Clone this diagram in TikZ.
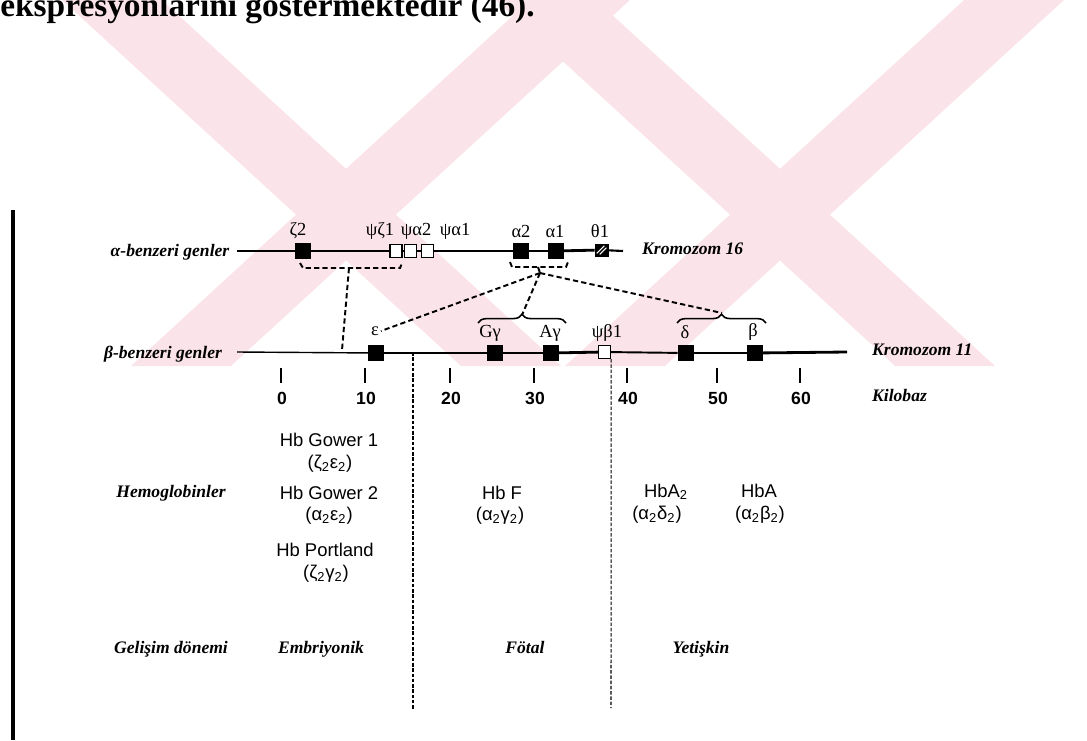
\documentclass[tikz,border=0pt]{standalone}
\usepackage{fontspec}
\setmainfont{Liberation Serif}
\setsansfont{Liberation Sans}
\usetikzlibrary{decorations.pathreplacing}
\definecolor{wmpink}{RGB}{251,228,233}
\tikzset{>=latex}

\begin{document}
\begin{tikzpicture}[x=0.02cm,y=-0.02cm,
  genebox/.style={draw,fill=black,minimum width=0.3cm,minimum height=0.3cm,inner sep=0pt},
  pseudo/.style={draw,fill=white,line width=0.7pt,minimum width=0.24cm,minimum height=0.26cm,inner sep=0pt},
  sidelbl/.style={font=\bfseries\itshape\fontsize{10}{12}\selectfont},
  genelbl/.style={font=\fontsize{10.5}{12}\selectfont,inner sep=1pt},
  hbtxt/.style={font=\sffamily\fontsize{10.5}{12}\selectfont},
  kbnum/.style={font=\sffamily\bfseries\fontsize{10}{12}\selectfont},
  link/.style={line width=1.1pt,dash pattern=on 3pt off 1.8pt},
  sep/.style={line width=0.6pt,dash pattern=on 2pt off 1pt}]
\useasboundingbox (0,0) rectangle (1087,740);

% watermark
\begin{scope}
  \clip (0,0) rectangle (1087,366);
  \fill[wmpink] (62,0) -- (162,0) -- (561,366) -- (461,366) -- cycle;
  \fill[wmpink] (530,0) -- (630,0) -- (231,366) -- (131,366) -- cycle;
  \fill[wmpink] (496,0) -- (596,0) -- (995,366) -- (895,366) -- cycle;
  \fill[wmpink] (964,0) -- (1064,0) -- (665,366) -- (565,366) -- cycle;
\end{scope}

\node[anchor=base west,inner sep=0pt,font=\bfseries\fontsize{19}{22}\selectfont] (caption) at (0,17) {ekspresyonlarını göstermektedir (46).};

\draw[line width=2pt] (13,210) -- (13,740);

% alpha cluster
\node[sidelbl] (alab) at (170,252) {α-benzeri genler};
\coordinate (astart) at (237,251);
\coordinate (aend) at (623,251);
\node[genebox] (z2) at (303,251) {};
\node[pseudo] (psiz1) at (396,251) {};
\node[pseudo] (psia2) at (410.5,251) {};
\node[pseudo] (psia1) at (427.5,251) {};
\node[genebox] (a2) at (520.5,251) {};
\node[genebox] (a1) at (555.5,251) {};
\node[draw,fill=black,minimum width=0.26cm,minimum height=0.24cm,inner sep=0pt] (th1) at (601.5,250) {};
\draw[white,line width=0.6pt] ([shift={(2,-3)}]th1.south west) -- ([shift={(-4,2)}]th1.north east);
\draw[white,line width=0.6pt] ([shift={(5,-2)}]th1.south west) -- ([shift={(-2,4)}]th1.north east);
\draw[line width=1.6pt] (astart) -- (z2);
\draw[line width=1.1pt] (z2) -- (psiz1);
\draw[line width=1pt] (psiz1) -- (psia2);
\draw[line width=1pt] (psia2) -- (psia1);
\draw[line width=1pt] (psia1) -- (a2);
\draw[line width=1.6pt] (a2) -- (a1);
\draw[line width=1.6pt] (a1) -- (th1);
\draw[line width=1.2pt] (th1) -- (aend);
\node[genelbl] (lz2) at (298,231) {ζ2};
\node[genelbl] (lpz1) at (380,231) {ψζ1};
\node[genelbl] (lpa2) at (416,231) {ψα2};
\node[genelbl] (lpa1) at (455,231) {ψα1};
\node[genelbl] (la2) at (521,231) {α2};
\node[genelbl] (la1) at (555,231) {α1};
\node[genelbl] (lth1) at (600,231) {θ1};
\node[sidelbl,anchor=west] (k16) at (636,249) {Kromozom 16};

% beta cluster
\node[sidelbl] (blab) at (163,354) {β-benzeri genler};
\coordinate (bstart) at (237,352);
\coordinate (bend) at (847,352);
\node[genebox] (eps) at (376,353) {};
\node[genebox] (gg) at (494.5,353) {};
\node[genebox] (ag) at (550.5,353) {};
\node[pseudo] (pb1) at (604.5,352) {};
\node[genebox] (dl) at (685.5,353) {};
\node[genebox] (bt) at (754.5,353) {};
\draw[line width=0.8pt] (bstart) -- (eps);
\draw[line width=0.8pt] (eps) -- (gg);
\draw[line width=1.6pt] (gg) -- (ag);
\draw[line width=1.6pt] (ag) -- (pb1);
\draw[line width=1.1pt] (pb1) -- (dl);
\draw[line width=1.6pt] (dl) -- (bt);
\draw[line width=1.6pt] (bt) -- (bend);
\node[genelbl] (leps) at (375,331) {ε};
\node[genelbl] (lgg) at (490,333) {Gγ};
\node[genelbl] (lag) at (550,333) {Aγ};
\node[genelbl] (lpb1) at (607,333) {ψβ1};
\node[genelbl] (ldl) at (685,332) {δ};
\node[genelbl] (lbt) at (753,332) {β};
\node[sidelbl,anchor=west] (k11) at (866,350) {Kromozom 11};

% brackets and links
\draw[link] (300,263) -- (303,268) -- (400,268) -- (402,263);
\draw[link] (510,262) -- (512,267) -- (566,267) -- (568,262);
\coordinate (zbm) at (349,268);
\coordinate (bhit) at (342,350);
\coordinate (abm) at (540,273);
\coordinate (gbr) at (522,315);
\coordinate (dbr) at (722,313);
\draw[link] (538,267) -- (abm);
\draw[link] (zbm) -- (bhit);
\draw[link] (abm) -- (leps.east);
\draw[link] (abm) -- (gbr);
\draw[link] (abm) -- (dbr);
\draw[line width=0.9pt,decorate,decoration={brace,amplitude=5pt}] (478,323) -- (566,323);
\draw[line width=0.9pt,decorate,decoration={brace,amplitude=5pt}] (677,323) -- (766,323);

% kilobase scale
\foreach \x/\k in {281/0,365/10,450/20,534/30,627/40,717/50,800/60}{
  \draw[line width=1.1pt] (\x,368) -- (\x,383);
  \node[kbnum] (kb\k) at (\x+1,398) {\k};
}
\node[sidelbl,anchor=west] (kilo) at (866,395) {Kilobaz};

% period separators
\coordinate (sepatop) at (413,352);
\coordinate (sepabot) at (413,710);
\coordinate (sepbbot) at (611,708);
\draw[sep] (sepatop) -- (sepabot);
\draw[sep] (pb1.south east) -- (sepbbot);

% hemoglobins
\node[sidelbl] (hemo) at (171,493) {Hemoglobinler};
\node[hbtxt] (gow1) at (329,440) {Hb Gower 1};
\node[hbtxt] (gow1f) at (330,464) {(ζ\textsubscript{2}ε\textsubscript{2})};
\node[hbtxt] (gow2) at (329,493) {Hb Gower 2};
\node[hbtxt] (gow2f) at (329,516) {(α\textsubscript{2}ε\textsubscript{2})};
\node[hbtxt] (port) at (325,550) {Hb Portland};
\node[hbtxt] (portf) at (326,574) {(ζ\textsubscript{2}γ\textsubscript{2})};
\node[hbtxt] (hbf) at (502,493) {Hb F};
\node[hbtxt] (hbff) at (500,516) {(α\textsubscript{2}γ\textsubscript{2})};
\node[hbtxt,anchor=base] (hba2) at (666,497) {HbA\textsubscript{2}};
\node[hbtxt] (hba2f) at (657,515) {(α\textsubscript{2}δ\textsubscript{2})};
\node[hbtxt,anchor=base] (hba) at (759,497) {HbA};
\node[hbtxt] (hbaf) at (760,515) {(α\textsubscript{2}β\textsubscript{2})};

% developmental periods
\node[sidelbl,anchor=base] (gel) at (171,653) {Gelişim dönemi};
\node[sidelbl,anchor=base] (emb) at (321,653) {Embriyonik};
\node[sidelbl,anchor=base] (fet) at (525,653) {Fötal};
\node[sidelbl,anchor=base] (yet) at (701,653) {Yetişkin};
\end{tikzpicture}
\end{document}
